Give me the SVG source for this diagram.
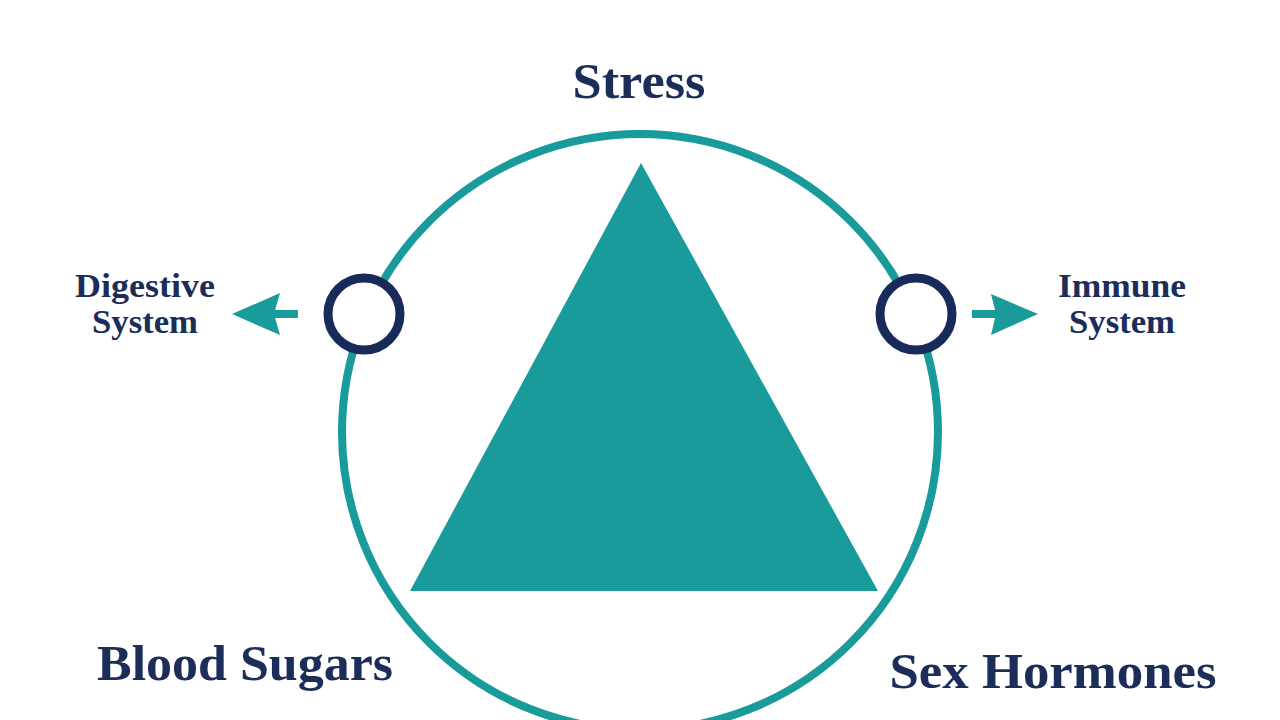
<svg xmlns="http://www.w3.org/2000/svg" width="1280" height="720" viewBox="0 0 1280 720">
<defs>
<style>
.lbl{font-family:"Liberation Serif","DejaVu Serif",serif;font-weight:bold;fill:#1b2d58;text-anchor:middle}
.big{font-size:51px}
.sm{font-size:33px}
.teal{fill:#1a9b9b}
.ring{fill:#fff;stroke:#182a5a;stroke-width:9}
</style>
</defs>
<rect width="1280" height="720" fill="#fff"/>
<g id="main-circle"><circle cx="640" cy="432" r="298" fill="none" stroke="#1a9b9b" stroke-width="8"/></g>
<g id="triangle"><polygon class="teal" points="641,163 410,591 878,591"/></g>
<g id="connectors">
<rect class="teal" x="268" y="310" width="30" height="8"/>
<polygon class="teal" points="232,314 280,293 274,314 280,335"/>
<rect class="teal" x="972" y="310" width="26" height="8"/>
<polygon class="teal" points="1038,314 991,294 996,314 991,335"/>
</g>
<g id="node-left"><circle class="ring" cx="364" cy="314" r="36"/></g>
<g id="node-right"><circle class="ring" cx="916" cy="314" r="36"/></g>
<g id="stress"><text class="lbl big" x="639" y="98" textLength="133" lengthAdjust="spacingAndGlyphs">Stress</text></g>
<g id="digestive"><text class="lbl sm" x="145" y="297" textLength="140" lengthAdjust="spacingAndGlyphs">Digestive</text><text class="lbl sm" x="145" y="333" textLength="106" lengthAdjust="spacingAndGlyphs">System</text></g>
<g id="immune"><text class="lbl sm" x="1122" y="297" textLength="128" lengthAdjust="spacingAndGlyphs">Immune</text><text class="lbl sm" x="1122" y="333" textLength="106" lengthAdjust="spacingAndGlyphs">System</text></g>
<g id="blood-sugars"><text class="lbl big" x="245" y="680" textLength="296" lengthAdjust="spacingAndGlyphs">Blood Sugars</text></g>
<g id="sex-hormones"><text class="lbl big" x="1053" y="688" textLength="327" lengthAdjust="spacingAndGlyphs">Sex Hormones</text></g>
</svg>
